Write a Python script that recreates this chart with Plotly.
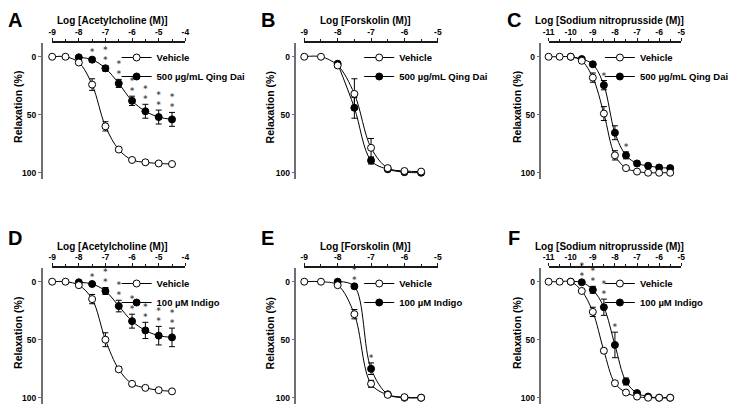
import plotly.graph_objects as go

# page is 740x407; the browser body has an 8 px margin, so the figure is 8 px smaller
PAGE_W, PAGE_H = 740, 407
OFF = 8
W, H = PAGE_W - OFF, PAGE_H - OFF
FONT = "Liberation Sans, Arial, sans-serif"
STAR_FONT = "DejaVu Sans, sans-serif"

# ---------------- data ----------------
# Panel A: Acetylcholine, Qing Dai
a_x_veh = [-9, -8.5, -8, -7.5, -7, -6.5, -6, -5.5, -5, -4.5]
a_veh = [0, 0, 5, 24, 60, 80, 89, 91, 92, 92.5]
a_veh_err = [0.5, 0.5, 1, 5, 4, 1.5, 1, 1, 1, 1]
a_x_trt = [-8, -7.5, -7, -6.5, -6, -5.5, -5, -4.5]
a_trt = [0.5, 2.5, 10, 23, 38, 47, 52, 54]
a_trt_err = [1, 2, 2.5, 3.5, 4, 6, 6, 6]
a_sig = ["", "*", "*<br>*", "*<br>*", "*<br>*", "*<br>*", "*<br>*", "*<br>*"]

# Panel B: Forskolin, Qing Dai
b_x_veh = [-9, -8.5, -8, -7.5, -7, -6.5, -6, -5.5]
b_veh = [0, 0, 7.5, 32, 78.5, 96, 98.5, 99]
b_veh_err = [0.5, 0.5, 2, 13, 8, 1.5, 1, 1]
b_x_trt = [-8, -7.5, -7, -6.5, -6, -5.5]
b_trt = [6, 44, 89.5, 97, 99.5, 100]
b_trt_err = [1.5, 9, 3, 1, 1, 1]
b_sig = ["", "", "", "", "", ""]

# Panel C: Sodium nitroprusside, Qing Dai
c_x_veh = [-11, -10.5, -10, -9.5, -9, -8.5, -8, -7.5, -7, -6.5, -6, -5.5]
c_veh = [0, 0, 0, 3.5, 18, 49, 85, 96, 99, 100, 100, 100]
c_veh_err = [0.5, 0.5, 0.5, 1, 4, 6, 4, 1, 1, 1, 1, 1]
c_x_trt = [-10, -9.5, -9, -8.5, -8, -7.5, -7, -6.5, -6, -5.5]
c_trt = [0, 2, 6.5, 24.5, 65.5, 85, 92, 94, 95.5, 96]
c_trt_err = [0.5, 1, 1.5, 4, 6, 3, 2, 2, 2, 2]
c_sig = ["", "", "", "*", "", "*", "", "", "", ""]

# Panel D: Acetylcholine, Indigo
d_x_veh = [-9, -8.5, -8, -7.5, -7, -6.5, -6, -5.5, -5, -4.5]
d_veh = [0, 0, 3, 15, 50, 75.5, 88, 91.5, 93.5, 94.5]
d_veh_err = [0.5, 0.5, 1, 4, 6, 2, 2, 1, 1, 1]
d_x_trt = [-8, -7.5, -7, -6.5, -6, -5.5, -5, -4.5]
d_trt = [0.5, 2, 8, 21, 34, 42, 46.5, 48]
d_trt_err = [1, 1.5, 3, 5, 6, 7, 8, 8]
d_sig = ["", "*", "*<br>*", "*<br>*", "*<br>*", "*<br>*", "*<br>*", "*<br>*"]

# Panel E: Forskolin, Indigo
e_x_veh = [-9, -8.5, -8, -7.5, -7, -6.5, -6, -5.5]
e_veh = [0, 0, 3, 28, 88, 97.5, 99.5, 100]
e_veh_err = [0.5, 0.5, 1, 4, 3, 1, 1, 1]
e_x_trt = [-8, -7.5, -7, -6.5, -6, -5.5]
e_trt = [0, 4, 75, 97, 100, 100]
e_trt_err = [0.5, 1, 5, 1, 1, 1]
e_sig = ["", "*<br>*", "*", "", "", ""]

# Panel F: Sodium nitroprusside, Indigo
f_x_veh = [-11, -10.5, -10, -9.5, -9, -8.5, -8, -7.5, -7, -6.5, -6, -5.5]
f_veh = [0, 0, 0, 8, 26, 59.5, 87.5, 95.5, 99, 100, 100, 100]
f_veh_err = [0.5, 0.5, 0.5, 1, 4, 2, 1, 1, 1, 1, 1, 1]
f_x_trt = [-10, -9.5, -9, -8.5, -8, -7.5, -7, -6.5, -6, -5.5]
f_trt = [0, 0.5, 7, 22, 54.5, 86, 96, 99, 100, 100]
f_trt_err = [0.5, 1, 3, 7, 11, 3, 1, 1, 1, 1]
f_sig = ["", "*<br>*", "*<br>*", "*<br>*", "*", "", "", "", "", ""]

# axis ticks
ach_ticks = [-9, -8, -7, -6, -5, -4]
fsk_ticks = [-9, -8, -7, -6, -5]
snp_ticks = [-11, -10, -9, -8, -7, -6, -5]
y_ticks = [0, 50, 100]

panel_letters = ["A", "B", "C", "D", "E", "F"]
x_titles = ["Log [Acetylcholine (M)]", "Log [Forskolin (M)]", "Log [Sodium nitroprusside (M)]",
            "Log [Acetylcholine (M)]", "Log [Forskolin (M)]", "Log [Sodium nitroprusside (M)]"]
y_title = "Relaxation (%)"
veh_name = "Vehicle"
trt_names = ["500 µg/mL Qing Dai", "100 µM Indigo"]

# ---------------- layout geometry (page pixels) ----------------
col_x = [(46.7, 181.7, 36.0), (302.3, 437.7, 293.3), (550.0, 684.5, 541.7)]
row_y = [(42.7, 179.0, [105.4, -12.1]), (268.0, 404.0, [105.4, -11.8])]

panels = [
    (a_x_veh, a_veh, a_veh_err, a_x_trt, a_trt, a_trt_err, a_sig, ach_ticks, 0),
    (b_x_veh, b_veh, b_veh_err, b_x_trt, b_trt, b_trt_err, b_sig, fsk_ticks, 0),
    (c_x_veh, c_veh, c_veh_err, c_x_trt, c_trt, c_trt_err, c_sig, snp_ticks, 0),
    (d_x_veh, d_veh, d_veh_err, d_x_trt, d_trt, d_trt_err, d_sig, ach_ticks, 1),
    (e_x_veh, e_veh, e_veh_err, e_x_trt, e_trt, e_trt_err, e_sig, fsk_ticks, 1),
    (f_x_veh, f_veh, f_veh_err, f_x_trt, f_trt, f_trt_err, f_sig, snp_ticks, 1),
]

fig = go.Figure()
layout = {}
annotations = []


def px_x(p):
    return (p - OFF) / W


def px_y(p):
    return 1 - (p - OFF) / H


for i, (xv, yv, ev, xt, yt, et, sig, ticks, tname) in enumerate(panels):
    n = i + 1
    row, col = divmod(i, 3)
    x0, x1, ypos = col_x[col]
    top, bot, yrange = row_y[row]
    xa = "x" if n == 1 else f"x{n}"
    ya = "y" if n == 1 else f"y{n}"
    lg = "legend" if n == 1 else f"legend{n}"

    # treatment (filled)
    fig.add_trace(go.Scatter(
        x=xt, y=yt, xaxis=xa, yaxis=ya, mode="lines+markers",
        name=trt_names[tname], legend=lg, legendrank=2,
        line=dict(color="black", width=1, shape="spline", smoothing=1.0),
        marker=dict(symbol="circle", size=7, color="black", line=dict(color="black", width=1)),
        error_y=dict(type="data", array=et, color="black", thickness=1, width=3),
        cliponaxis=False,
    ))
    # vehicle (open)
    fig.add_trace(go.Scatter(
        x=xv, y=yv, xaxis=xa, yaxis=ya, mode="lines+markers",
        name=veh_name, legend=lg, legendrank=1,
        line=dict(color="black", width=1, shape="spline", smoothing=1.0),
        marker=dict(symbol="circle", size=7, color="white", line=dict(color="black", width=1)),
        error_y=dict(type="data", array=ev, color="black", thickness=1, width=3),
        cliponaxis=False,
    ))
    # significance stars
    fig.add_trace(go.Scatter(
        x=xt, y=[v - e for v, e in zip(yt, et)], xaxis=xa, yaxis=ya,
        mode="text", text=sig, textposition="top center",
        textfont=dict(family=STAR_FONT, size=8, color="#4d4d4d", weight="bold"),
        showlegend=False, hoverinfo="skip", cliponaxis=False,
    ))

    halfs = [t + 0.5 for t in ticks[:-1]]
    layout["xaxis" if n == 1 else f"xaxis{n}"] = dict(
        domain=[(x0 - OFF) / W, (x1 - OFF) / W], range=[ticks[0], ticks[-1]],
        anchor=ya, side="top", showgrid=False, zeroline=False,
        showline=True, linecolor="#1a1a1a", linewidth=1.5,
        tickmode="array", tickvals=ticks, ticktext=[str(t) for t in ticks],
        ticks="outside", ticklen=3, tickwidth=1.2, tickcolor="#1a1a1a",
        tickfont=dict(family=FONT, size=8.5, color="black", weight="bold"),
        minor=dict(tickmode="array", tickvals=halfs, ticks="outside", ticklen=2,
                   tickwidth=1.2, tickcolor="#1a1a1a", showgrid=False),
        fixedrange=True,
    )
    layout["yaxis" if n == 1 else f"yaxis{n}"] = dict(
        domain=[px_y(bot), px_y(top)], range=yrange,
        anchor="free", position=px_x(ypos), showgrid=False, zeroline=False,
        showline=True, linecolor="#707070", linewidth=1.5,
        tickmode="array", tickvals=y_ticks, ticktext=[str(t) for t in y_ticks],
        ticks="outside", ticklen=3, tickwidth=1.2, tickcolor="#707070",
        tickfont=dict(family=FONT, size=8.5, color="black", weight="bold"),
        fixedrange=True,
    )
    # legend
    leg_x = [112.0, 358.0, 602.0][col]
    leg_y = [43.0, 269.0][row]
    layout[lg] = dict(
        x=px_x(leg_x), y=px_y(leg_y), xanchor="left", yanchor="top",
        bgcolor="rgba(0,0,0,0)", borderwidth=0, itemwidth=30,
        font=dict(family=FONT, size=9.5, color="black", weight="bold"),
        tracegroupgap=0,
    )
    # titles
    tx = [108.0, 364.0, 611.7][col]
    ty = [20.8, 246.3][row]
    annotations.append(dict(
        text=x_titles[i], x=px_x(tx), y=px_y(ty), xref="paper", yref="paper",
        showarrow=False, xanchor="center", yanchor="middle",
        font=dict(family=FONT, size=10, color="black", weight="bold"),
    ))
    yx = [12.0, 268.0, 518.0][col]
    yy = [107.0, 333.0][row]
    annotations.append(dict(
        text=y_title, x=px_x(yx), y=px_y(yy), xref="paper", yref="paper",
        showarrow=False, xanchor="center", yanchor="middle", textangle=-90,
        font=dict(family=FONT, size=10.5, color="black", weight="bold"),
    ))
    # panel letters: top row kept just inside the figure's top edge
    lx = [9.5, 265.5, 514.5][col]
    if row == 0:
        annotations.append(dict(
            text=panel_letters[i], x=px_x(lx), y=px_y(OFF + 0.5), xref="paper", yref="paper",
            showarrow=False, xanchor="center", yanchor="top", borderpad=0,
            font=dict(family=FONT, size=20, color="black", weight="bold"),
        ))
    else:
        annotations.append(dict(
            text=panel_letters[i], x=px_x(lx), y=px_y(237.5), xref="paper", yref="paper",
            showarrow=False, xanchor="center", yanchor="middle",
            font=dict(family=FONT, size=20, color="black", weight="bold"),
        ))

fig.update_layout(
    width=W, height=H, margin=dict(l=0, r=0, t=0, b=0),
    paper_bgcolor="white", plot_bgcolor="white",
    annotations=annotations, showlegend=True,
    **layout,
)

fig.write_html("out.html")
